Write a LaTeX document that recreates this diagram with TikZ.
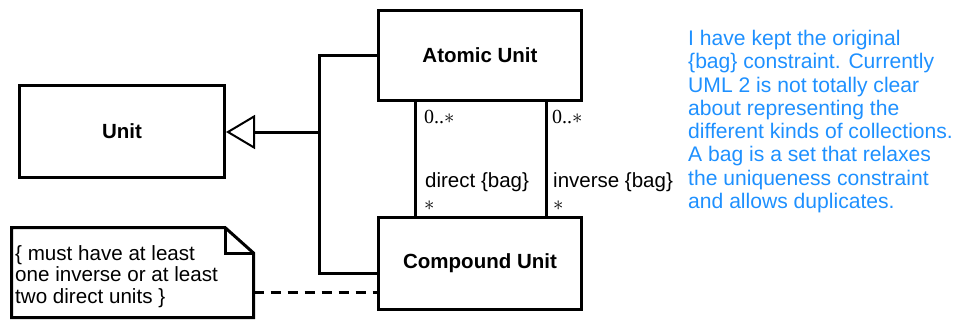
\documentclass[tikz,border=0pt]{standalone}
\usepackage{fontspec}
\setmainfont{Liberation Sans}
\newfontfamily\multfont{Liberation Serif}
\usetikzlibrary{arrows.meta}
\definecolor{noteblue}{RGB}{30,144,255}
\begin{document}
\begin{tikzpicture}[x=1pt,y=-1pt,
  cls/.style={draw,line width=3pt,fill=white,inner sep=0pt,
    font=\fontsize{20.5}{24}\selectfont\bfseries},
  lnk/.style={line width=3pt},
  lbl/.style={anchor=west,inner sep=0pt,font=\fontsize{20.5}{24}\selectfont},
  mult/.style={anchor=west,inner sep=0pt,font=\multfont\fontsize{20}{24}\selectfont},
  notetext/.style={anchor=north west,inner sep=0pt,align=left,
    font=\fontsize{20.6}{21.5}\selectfont},
  comment/.style={anchor=north west,inner sep=0pt,align=left,text=noteblue,
    font=\fontsize{21.1}{23.3}\selectfont}]
\useasboundingbox (0,0) rectangle (960,321);

\node[cls,minimum width=203pt,minimum height=90pt] (au) at (480,55.5) {Atomic Unit};
\node[cls,minimum width=203pt,minimum height=92pt] (cu) at (480,263.5) {Compound Unit};
\node[cls,minimum width=205pt,minimum height=92pt] (unit) at (122,131.5) {Unit};

% generalization
\coordinate (j1) at (319,56);
\coordinate (j2) at (319,273);
\coordinate (jm) at (319,132);
\draw[lnk] (au.west |- j1) -- (j1) -- (j2) -- (cu.west |- j2);
\draw[lnk,-{Triangle[open,fill=white,length=29pt,width=34pt,line width=2pt]}] (jm) -- (unit.east |- jm);

% associations
\coordinate (d1) at (415,160);
\coordinate (d2) at (546,160);
\draw[lnk] (d1 |- au.south) -- (d1 |- cu.north);
\draw[lnk] (d2 |- au.south) -- (d2 |- cu.north);
\node[mult] (m1) at (424,117) {0..$\ast$};
\node[mult] (m2) at (552,117) {0..$\ast$};
\node[lbl] (r1) at (425,182) {direct \{bag\}};
\node[lbl] (r2) at (553,182) {inverse \{bag\}};
\node[mult] (m3) at (424,206) {$\ast$};
\node[mult] (m4) at (553,206) {$\ast$};

% note
\draw[line width=3pt,fill=white,line join=miter]
  (11.5,227.5) -- (225,227.5) -- (253.5,253) -- (253.5,317.5) -- (11.5,317.5) -- cycle;
\draw[line width=3pt] (225,227.5) -- (225,253) -- (253.5,253);
\node[notetext] (note) at (15,245) {\{ must have at least\\one inverse or at least\\two direct units \}};
\coordinate (na) at (253.5,292);
\draw[lnk,dash pattern=on 10pt off 7pt] (na) -- (cu.west |- na);

% comment
\node[comment] (cmt) at (688,30) {I have kept the original\\\{bag\} constraint. Currently\\UML 2 is not totally clear\\about representing the\\different kinds of collections.\\A bag is a set that relaxes\\the uniqueness constraint\\and allows duplicates.};
\end{tikzpicture}
\end{document}
